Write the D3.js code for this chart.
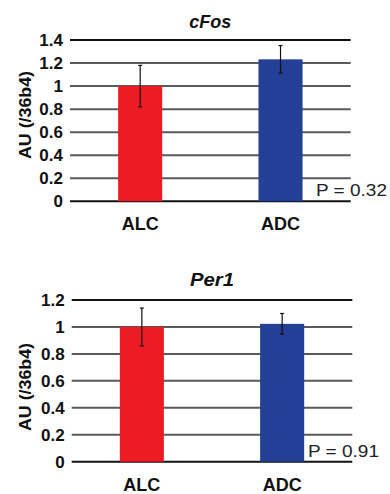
<!DOCTYPE html>
<html lang="en">
<head>
	<meta charset="utf-8">
	<title>cFos / Per1</title>
	<script src="https://cdn.jsdelivr.net/npm/d3@7"></script>
	<style>
		body {
			margin: 0;
			background: white;
			font-family: "Liberation Sans", Arial, Helvetica, sans-serif;
		}
		svg { display: block; }
		.tick-label { font-size: 17px; font-weight: bold; fill: #111; }
		.cat-label { font-size: 18px; font-weight: bold; fill: #111; }
		.title { font-size: 18px; font-weight: bold; font-style: italic; fill: #111; }
		.ytitle { font-size: 17px; font-weight: bold; fill: #111; }
		.pval { font-size: 17px; fill: #222; }
	</style>
</head>
<body>
<div id="chart"></div>
<script>

// data
const categories = ["ALC", "ADC"];
const colors = ["#ed1c24", "#233f96"];

const cfosValues = [1.0, 1.232];
const cfosErrors = [0.18, 0.12];
const cfosTicks = [0, 0.2, 0.4, 0.6, 0.8, 1, 1.2, 1.4];

const per1Values = [1.0, 1.023];
const per1Errors = [0.14, 0.077];
const per1Ticks = [0, 0.2, 0.4, 0.6, 0.8, 1, 1.2];

const WIDTH = 390, HEIGHT = 494;

const svg = d3.select("#chart").append("svg")
	.attr("width", WIDTH)
	.attr("height", HEIGHT)
	.attr("viewBox", [0, 0, WIDTH, HEIGHT]);

function panel(opt) {
	const g = svg.append("g");

	const x = d3.scaleBand()
		.domain(categories)
		.range([opt.left, opt.right])
		.paddingInner(0.686)
		.paddingOuter(0.343);

	const ticks = opt.ticks;
	const y = d3.scaleLinear()
		.domain([0, d3.max(ticks)])
		.range([opt.bottom, opt.top]);

	// gridlines
	g.selectAll("line.grid")
		.data(ticks)
		.join("line")
		.attr("class", "grid")
		.attr("x1", opt.left)
		.attr("x2", opt.right)
		.attr("y1", d => y(d))
		.attr("y2", d => y(d))
		.attr("stroke", (d, i) => (i === ticks.length - 1 || i === 0) ? "#111" : "#5a5a5a")
		.attr("stroke-width", 2);

	// tick labels
	g.selectAll("text.tick-label")
		.data(ticks)
		.join("text")
		.attr("class", "tick-label")
		.attr("x", opt.left - 7)
		.attr("y", d => y(d))
		.attr("dy", "0.36em")
		.attr("text-anchor", "end")
		.text(d => d3.format("")(d));

	const rows = categories.map((c, i) => ({ c: c, v: opt.values[i], e: opt.errors[i], col: colors[i] }));

	// bars
	g.selectAll("rect.bar")
		.data(rows)
		.join("rect")
		.attr("class", "bar")
		.attr("x", d => x(d.c))
		.attr("width", x.bandwidth())
		.attr("y", d => y(d.v))
		.attr("height", d => y(0) - y(d.v))
		.attr("fill", d => d.col);

	// error bars
	const eb = g.selectAll("g.err")
		.data(rows)
		.join("g")
		.attr("class", "err")
		.attr("stroke", "#111")
		.attr("stroke-width", 1.2);
	eb.append("line")
		.attr("x1", d => x(d.c) + x.bandwidth() / 2)
		.attr("x2", d => x(d.c) + x.bandwidth() / 2)
		.attr("y1", d => y(d.v - d.e))
		.attr("y2", d => y(d.v + d.e));
	eb.selectAll("line.cap")
		.data(d => [d.v - d.e, d.v + d.e].map(v => ({ c: d.c, v: v })))
		.join("line")
		.attr("class", "cap")
		.attr("x1", d => x(d.c) + x.bandwidth() / 2 - 2)
		.attr("x2", d => x(d.c) + x.bandwidth() / 2 + 2)
		.attr("y1", d => y(d.v))
		.attr("y2", d => y(d.v));

	// category labels
	g.selectAll("text.cat-label")
		.data(categories)
		.join("text")
		.attr("class", "cat-label")
		.attr("x", d => x(d) + x.bandwidth() / 2)
		.attr("y", opt.bottom + 29)
		.attr("text-anchor", "middle")
		.text(d => d);

	// title
	g.append("text")
		.attr("class", "title")
		.attr("x", (opt.left + opt.right) / 2)
		.attr("y", opt.titleY)
		.attr("text-anchor", "middle")
		.attr("textLength", opt.titleLen)
		.attr("lengthAdjust", "spacingAndGlyphs")
		.text(opt.title);

	// y axis title
	g.append("text")
		.attr("class", "ytitle")
		.attr("transform", "translate(" + 31 + "," + opt.yTitleMid + ") rotate(-90)")
		.attr("text-anchor", "middle")
		.attr("textLength", 88)
		.attr("lengthAdjust", "spacingAndGlyphs")
		.text("AU (/36b4)");

	// p value
	g.append("text")
		.attr("class", "pval")
		.attr("x", opt.pX)
		.attr("y", opt.bottom - 5)
		.attr("textLength", 71)
		.attr("lengthAdjust", "spacingAndGlyphs")
		.text(opt.p);
}

panel({
	title: "cFos", values: cfosValues, errors: cfosErrors, ticks: cfosTicks,
	left: 70, right: 350.7, top: 40, bottom: 201.3,
	titleY: 28, titleLen: 42, yTitleMid: 115, pX: 316, p: "P = 0.32"
});

panel({
	title: "Per1", values: per1Values, errors: per1Errors, ticks: per1Ticks,
	left: 71.7, right: 352.3, top: 300, bottom: 461.7,
	titleY: 286, titleLen: 44, yTitleMid: 387, pX: 308, p: "P = 0.91"
});

</script>
</body>
</html>
